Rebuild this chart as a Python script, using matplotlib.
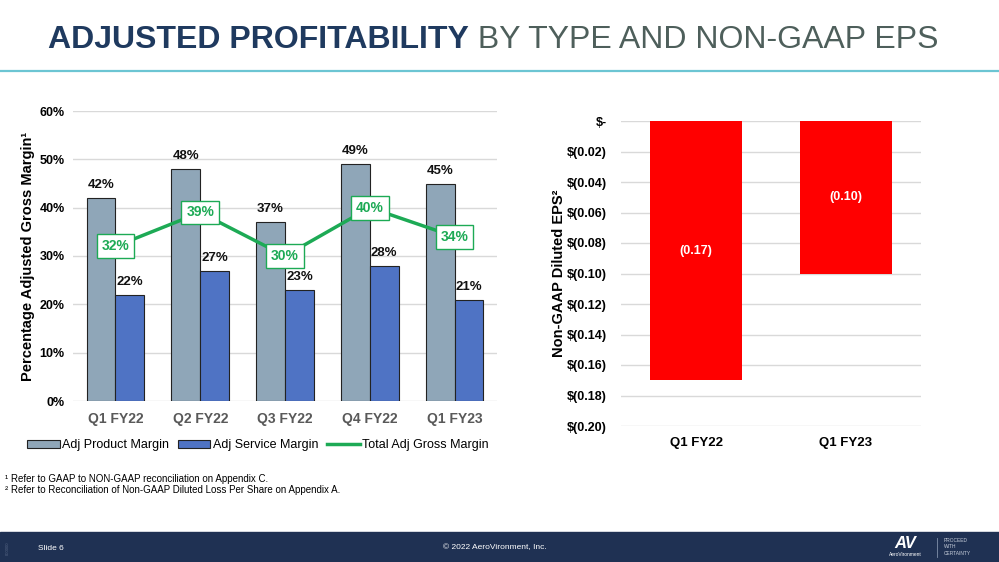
import numpy as np
import matplotlib.pyplot as plt
from matplotlib import font_manager
from matplotlib.patches import Rectangle
from matplotlib.lines import Line2D

# data
quarters = ["Q1 FY22", "Q2 FY22", "Q3 FY22", "Q4 FY22", "Q1 FY23"]
product_margin = [42, 48, 37, 49, 45]
service_margin = [22, 27, 23, 28, 21]
total_margin = [32, 39, 30, 40, 34]

eps_quarters = ["Q1 FY22", "Q1 FY23"]
eps_values = [-0.17, -0.10]

names = {f.name for f in font_manager.fontManager.ttflist}
base = "Liberation Sans" if "Liberation Sans" in names else "DejaVu Sans"
plt.rcParams["font.family"] = [base, "DejaVu Sans"]

navy = "#1F3A5F"
c_prod = "#8FA6B8"
c_serv = "#4F73C4"
c_green = "#1DAA55"
grid_c = "#D9D9D9"

fig = plt.figure(figsize=(9.99, 5.62), dpi=100)

# title (two styles on one line)
t1 = fig.text(48 / 999, 1 - 48 / 562, "ADJUSTED PROFITABILITY", fontsize=23,
              fontweight="bold", color=navy, va="baseline", ha="left")
fig.add_artist(plt.Annotation(" BY TYPE AND NON-GAAP EPS", xy=(1, 0), xycoords=t1,
                              va="bottom", ha="left", fontsize=23, color="#4E5F5B"))
fig.add_artist(Line2D([0, 1], [1 - 71 / 562] * 2, transform=fig.transFigure,
                      color="#6CC5D3", lw=1.6))

# left chart
ax = fig.add_axes([73 / 999, 161 / 562, 424 / 999, 290 / 562])
x = np.arange(len(quarters))
w = 0.34
b1 = ax.bar(x - w / 2, product_margin, w, color=c_prod, edgecolor="#222222", lw=0.8,
            label="Adj Product Margin", zorder=2)
b2 = ax.bar(x + w / 2, service_margin, w, color=c_serv, edgecolor="#222222", lw=0.8,
            label="Adj Service Margin", zorder=2)
ln, = ax.plot(x, total_margin, color=c_green, lw=2.5, label="Total Adj Gross Margin", zorder=3)
for bars, vals in ((b1, product_margin), (b2, service_margin)):
    for r, v in zip(bars, vals):
        ax.annotate(f"{v}%", (r.get_x() + r.get_width() / 2, v), xytext=(0, 5),
                    textcoords="offset points", ha="center", va="bottom",
                    fontsize=9.5, fontweight="bold", color="#111111")
for xi, v in zip(x, total_margin):
    ax.text(xi, v, f"{v}%", ha="center", va="center", fontsize=10, fontweight="bold",
            color=c_green, zorder=4,
            bbox=dict(boxstyle="square,pad=0.35", fc="white", ec=c_green, lw=1))
ax.set_xlim(-0.5, 4.5)
ax.set_ylim(0, 60)
ax.set_yticks(range(0, 61, 10))
ax.set_yticklabels([f"{v}%" for v in range(0, 61, 10)], fontsize=9, fontweight="bold")
ax.set_xticks(x)
ax.set_xticklabels(quarters, fontsize=10, fontweight="bold", color="#595959")
ax.tick_params(length=0, pad=8)
ax.tick_params(axis="y", pad=6)
ax.yaxis.grid(True, color=grid_c, lw=1, zorder=0)
ax.set_axisbelow(True)
for s in ax.spines.values():
    s.set_visible(False)
ax.set_ylabel("Percentage Adjusted Gross Margin\u00b9", fontsize=10.5, fontweight="bold",
              labelpad=3)
fig.legend(handles=[b1, b2, ln], loc="center", bbox_to_anchor=(258 / 999, 1 - 445 / 562),
           ncol=3, frameon=False, fontsize=9, handlelength=2.6, handleheight=0.6,
           handletextpad=0.2, columnspacing=0.7)

# right chart
ax2 = fig.add_axes([621 / 999, 136 / 562, 300 / 999, 305 / 562])
xe = np.arange(len(eps_quarters))
bars = ax2.bar(xe, eps_values, 0.61, color="#FF0000", zorder=2)
for r, v in zip(bars, eps_values):
    ax2.text(r.get_x() + r.get_width() / 2, v / 2, f"({abs(v):.2f})", ha="center",
             va="center", color="white", fontsize=9, fontweight="bold")
ax2.set_xlim(-0.5, 1.5)
ax2.set_ylim(-0.20, 0)
yt = np.round(np.arange(-0.20, 0.001, 0.02), 2)
ax2.set_yticks(yt)
ax2.set_yticklabels(["$-" if v == 0 else f"$({abs(v):.2f})" for v in yt],
                    fontsize=9, fontweight="bold")
ax2.set_xticks(xe)
ax2.set_xticklabels(eps_quarters, fontsize=9.5, fontweight="bold")
ax2.tick_params(length=0, pad=8)
ax2.tick_params(axis="y", pad=10)
ax2.yaxis.grid(True, color=grid_c, lw=1, zorder=0)
ax2.set_axisbelow(True)
for s in ax2.spines.values():
    s.set_visible(False)
ax2.set_ylabel("Non-GAAP Diluted EPS\u00b2", fontsize=10.5, fontweight="bold", labelpad=1)

# footnotes
fig.text(5 / 999, 1 - 479 / 562, "\u00b9 Refer to GAAP to NON-GAAP reconciliation on Appendix C.",
         fontsize=7, va="center")
fig.text(5 / 999, 1 - 490 / 562,
         "\u00b2 Refer to Reconciliation of Non-GAAP Diluted Loss Per Share on Appendix A.",
         fontsize=7, va="center")

# footer band
fig.add_artist(Rectangle((0, 0), 1, 30 / 562, transform=fig.transFigure,
                         color="#1F3153", zorder=0))
fy = 1 - 548 / 562
fig.text(38 / 999, fy, "Slide 6", color="white", fontsize=6, va="center")
fig.text(495 / 999, fy, "\u00a9 2022 AeroVironment, Inc.", color="white", fontsize=6,
         va="center", ha="center")
fig.text(8 / 999, fy, "000000", color="#5A6A88", fontsize=3, rotation=90,
         va="center", ha="center")
fig.text(905 / 999, 1 - 543 / 562, "AV", color="white", fontsize=12, fontweight="bold",
         style="italic", va="center", ha="center")
fig.text(905 / 999, 1 - 555 / 562, "AeroVironment", color="white", fontsize=3.5,
         va="center", ha="center")
fig.add_artist(Line2D([937 / 999] * 2, [1 - 538 / 562, 1 - 557 / 562],
                      transform=fig.transFigure, color="#8090AA", lw=0.6))
fig.text(944 / 999, 1 - 547 / 562, "PROCEED\nWITH\nCERTAINTY", color="#C8CFDC",
         fontsize=3.5, va="center", ha="left", linespacing=1.3)

fig.savefig("out.png", dpi=100)
